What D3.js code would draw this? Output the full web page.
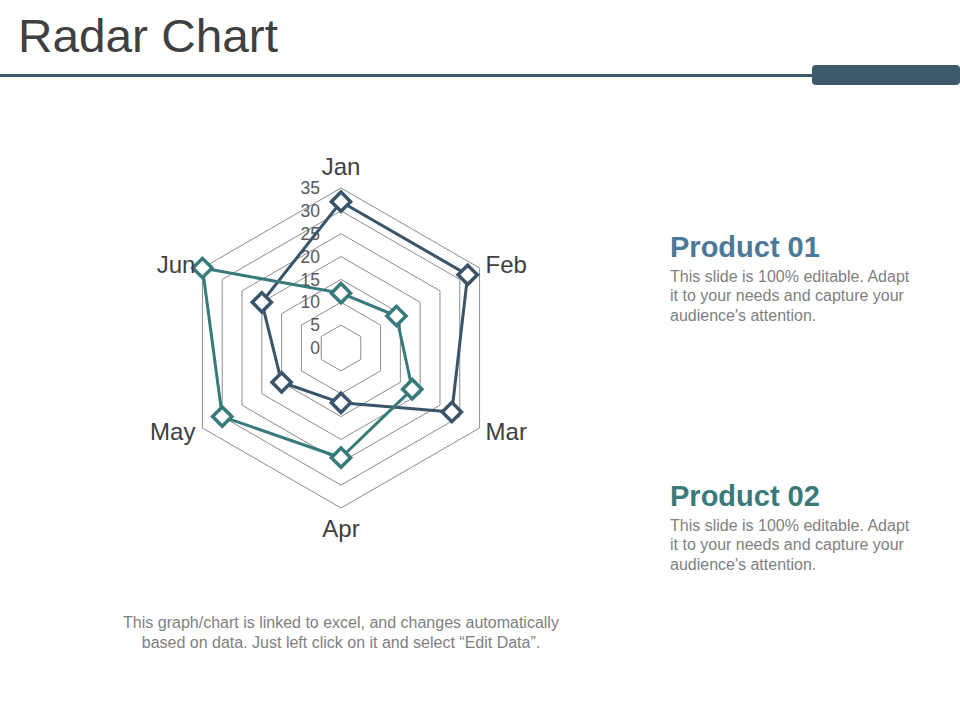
<!DOCTYPE html>
<html>
<head>
<meta charset="utf-8">
<script src="https://cdn.jsdelivr.net/npm/d3@7"></script>
<style>
  html, body { margin: 0; padding: 0; background: #ffffff; }
  svg { display: block; font-family: "Liberation Sans", Arial, sans-serif; }
</style>
</head>
<body>
<svg id="chart" width="960" height="720"></svg>
<script>
// ---- data ----
const categories = ["Jan", "Feb", "Mar", "Apr", "May", "Jun"];
const product01 = [32, 32, 28, 12, 15, 20];
const product02 = [12, 14, 18, 24, 30, 35];
const tickValues = [0, 5, 10, 15, 20, 25, 30, 35];
const seriesNames = ["Product 01", "Product 02"];
const descLines = ["This slide is 100% editable. Adapt", "it to your needs and capture your", "audience's attention."];
const footerLines = ["This graph/chart is linked to excel, and changes automatically", "based on data. Just left click on it and select \u201CEdit Data\u201D."];

const svg = d3.select("#chart");

// ---- header ----
svg.append("text").attr("x", 18).attr("y", 52)
  .attr("font-size", 47).attr("fill", "#404040")
  .attr("textLength", 260).attr("lengthAdjust", "spacingAndGlyphs")
  .text("Radar Chart");
svg.append("rect").attr("x", 0).attr("y", 74).attr("width", 815).attr("height", 3).attr("fill", "#3d5a6c");
svg.append("rect").attr("x", 812).attr("y", 65).attr("width", 148).attr("height", 20).attr("rx", 4).attr("fill", "#3d5a6c");

// ---- radar ----
const cx = 341, cy = 348, R = 160;
const r = d3.scaleLinear().domain([0, 35]).range([0, R]);
const angle = d3.scalePoint().domain(categories).range([0, 2 * Math.PI * (categories.length - 1) / categories.length]);
function pt(cat, v) {
  const a = angle(cat);
  return [cx + r(v) * Math.sin(a), cy - r(v) * Math.cos(a)];
}

const g = svg.append("g");
// grid hexagons
tickValues.filter(t => t > 0).forEach(t => {
  g.append("path")
    .attr("d", d3.line()(categories.map(c => pt(c, t))) + "Z")
    .attr("fill", "none").attr("stroke", "#8c8c8c").attr("stroke-width", 1);
});

// tick labels
g.selectAll("text.tick").data(tickValues).enter().append("text")
  .attr("class", "tick")
  .attr("x", cx - 21).attr("y", d => cy - r(d))
  .attr("dy", "0.35em").attr("text-anchor", "end")
  .attr("font-size", 17.5).attr("fill", "#595959")
  .text(d => d);

// series
const colors = ["#3a5469", "#367a7c"];
[product01, product02].forEach((vals, i) => {
  const pts = categories.map((c, j) => pt(c, vals[j]));
  g.append("path").attr("d", d3.line()(pts) + "Z")
    .attr("fill", "none").attr("stroke", colors[i]).attr("stroke-width", 3).attr("stroke-linejoin", "round");
});
[product01, product02].forEach((vals, i) => {
  const pts = categories.map((c, j) => pt(c, vals[j]));
  g.selectAll("path.m" + i).data(pts).enter().append("path")
    .attr("class", "m" + i)
    .attr("d", d3.symbol().type(d3.symbolSquare).size(185)())
    .attr("transform", d => `translate(${d[0]},${d[1]}) rotate(45)`)
    .attr("fill", "#ffffff").attr("stroke", colors[i]).attr("stroke-width", 3.5);
});

// category labels
categories.forEach(c => {
  const a = angle(c);
  const s = Math.sin(a), co = Math.cos(a);
  const [x, y] = pt(c, 35);
  let tx = x, ty = y, anchor = "middle";
  if (Math.abs(s) < 0.01) {
    ty = co > 0 ? y - 13 : y + 29;
  } else {
    ty = co > 0 ? y + 4.5 : y + 12;
    if (s > 0) { tx = x + 6; anchor = "start"; }
    else { tx = x - 7; anchor = "end"; }
  }
  g.append("text").attr("x", tx).attr("y", ty).attr("text-anchor", anchor)
    .attr("font-size", 24).attr("fill", "#404040").text(c);
});

// ---- legend descriptions ----
const legendY = [257, 506];
const legendColors = ["#4b7a99", "#3a7a7b"];
seriesNames.forEach((name, i) => {
  svg.append("text").attr("x", 670).attr("y", legendY[i])
    .attr("font-size", 29).attr("font-weight", "bold").attr("fill", legendColors[i]).text(name);
  descLines.forEach((l, k) => {
    svg.append("text").attr("x", 670).attr("y", legendY[i] + 25 + k * 19.3)
      .attr("font-size", 16).attr("fill", "#7f7f7f").text(l);
  });
});

// ---- footer ----
footerLines.forEach((l, k) => {
  svg.append("text").attr("x", 341).attr("y", 628 + k * 19.5)
    .attr("text-anchor", "middle").attr("font-size", 16).attr("fill", "#7f7f7f").text(l);
});
</script>
</body>
</html>
